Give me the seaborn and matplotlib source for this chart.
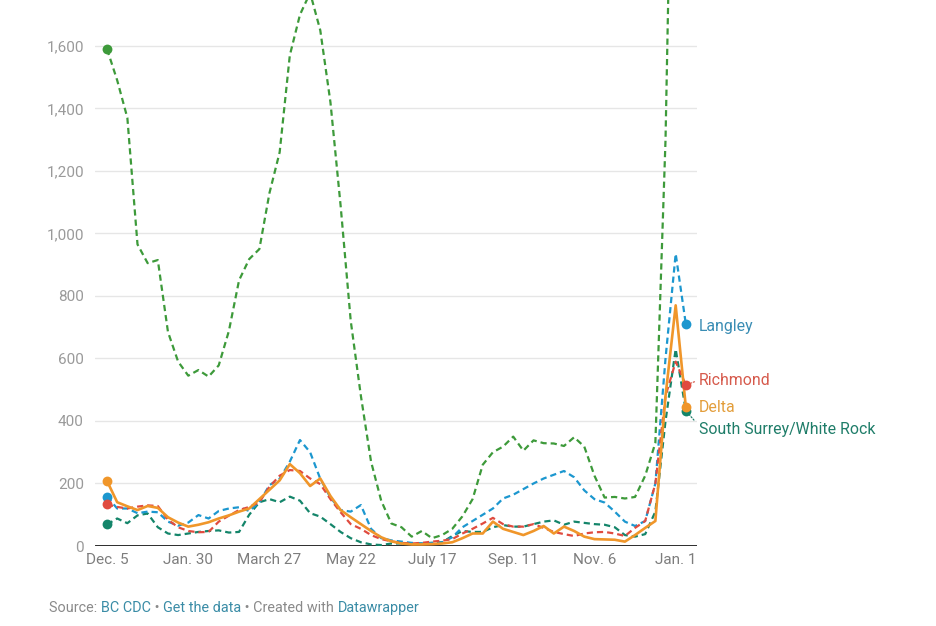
import numpy as np
import pandas as pd
import matplotlib
matplotlib.use("Agg")
import matplotlib.pyplot as plt
import seaborn as sns

# weekly case counts, week starting Dec. 5, 2020
weeks = pd.date_range("2020-12-05", periods=58, freq="7D")

surrey = [1590, 1490, 1370, 965, 905, 915, 685, 590, 545, 563,
          542, 578, 688, 850, 918, 950, 1130, 1260, 1570, 1700,
          1770, 1650, 1420, 1090, 720, 480, 270, 145, 72, 60,
          30, 48, 25, 35, 55, 95, 150, 260, 300, 318,
          350, 305, 338, 329, 328, 320, 348, 318, 225, 155,
          157, 152, 157, 225, 330, 1300, 3000, 2600]
langley = [158, 120, 120, 105, 110, 108, 78, 65, 75, 99,
           88, 112, 120, 124, 112, 140, 195, 215, 270, 339,
           300, 215, 155, 115, 110, 131, 55, 25, 18, 14,
           10, 8, 10, 11, 28, 60, 80, 100, 120, 152,
           164, 182, 200, 216, 228, 240, 220, 178, 150, 139,
           110, 78, 64, 80, 200, 600, 935, 710]
richmond = [133, 125, 120, 126, 130, 128, 84, 60, 48, 44,
            45, 78, 97, 115, 125, 140, 190, 225, 243, 240,
            216, 198, 150, 108, 70, 55, 35, 22, 15, 10,
            8, 10, 14, 17, 22, 40, 55, 72, 90, 70,
            62, 62, 70, 58, 45, 38, 32, 40, 44, 45,
            40, 32, 58, 80, 200, 480, 590, 515]
delta = [208, 140, 127, 115, 128, 122, 92, 75, 62, 68,
         76, 88, 98, 110, 120, 150, 180, 210, 262, 233,
         192, 216, 160, 115, 92, 70, 48, 28, 15, 8,
         5, 5, 6, 8, 12, 25, 40, 40, 78, 55,
         45, 35, 48, 64, 40, 62, 48, 30, 22, 21,
         20, 14, 35, 58, 80, 480, 770, 445]
south_surrey = [69, 88, 73, 98, 104, 60, 40, 35, 40, 45,
                48, 50, 43, 45, 100, 140, 150, 140, 158, 145,
                105, 94, 70, 45, 25, 12, 5, 3, 8, 8,
                8, 8, 10, 12, 32, 48, 45, 45, 60, 67,
                62, 62, 70, 78, 82, 68, 78, 74, 70, 68,
                60, 35, 30, 38, 110, 400, 630, 433]

names = ["Surrey", "South Surrey/White Rock", "Langley", "Richmond", "Delta"]
series = [surrey, south_surrey, langley, richmond, delta]
colors = ["#3d9a3a", "#14856a", "#1c97cf", "#e04b3f", "#f0962a"]
label_colors = [None, "#1f7d69", "#3a8db4", "#d65a4c", "#e39e3c"]
label_dy = [0, -13.7, -1.5, 3.6, -0.7]

tick_dates = weeks[::8]
tick_labels = ["Dec. 5", "Jan. 30", "March 27", "May 22", "July 17",
               "Sep. 11", "Nov. 6", "Jan. 1"]

sns.set_theme(style="white")
plt.rcParams["font.family"] = ["Roboto", "DejaVu Sans"]

fig = plt.figure(figsize=(9.36, 6.26), dpi=100)
ax = fig.add_axes([95 / 936, 1 - 546 / 626, (697 - 95) / 936, 546 / 626])

for name, vals, col in zip(names, series, colors):
    if name == "Delta":
        sns.lineplot(x=weeks, y=vals, ax=ax, color=col, lw=1.9, zorder=5)
    else:
        sns.lineplot(x=weeks, y=vals, ax=ax, color=col, lw=1.6,
                     linestyle=(0, (2.8, 1.8)), zorder=4)
    ax.scatter([weeks[0]], [vals[0]], s=50, color=col, zorder=6, lw=0)
    if name != "Surrey":
        ax.scatter([weeks[-1]], [vals[-1]], s=50, color=col, zorder=6, lw=0)

# end labels
for name, vals, lc, dy in zip(names, series, label_colors, label_dy):
    if lc is None:
        continue
    arrow = None
    if name == "Richmond":
        arrow = dict(arrowstyle="-", color=lc, lw=0.9, relpos=(0, 0.5),
                     linestyle=(0, (1, 1.5)), shrinkA=1, shrinkB=4)
    elif name == "South Surrey/White Rock":
        arrow = dict(arrowstyle="-", color=lc, lw=0.9, relpos=(0, 0.75),
                     linestyle=(0, (1, 1.5)), shrinkA=2, shrinkB=4)
    ax.annotate(name, xy=(weeks[-1], vals[-1]), xytext=(9.5, dy),
                textcoords="offset points", ha="left", va="center",
                color=lc, fontsize=11.4, arrowprops=arrow,
                annotation_clip=False)

ax.set_ylim(0, 1747)
ax.set_xlim(weeks[0] - pd.Timedelta(days=8.3), weeks[0] + pd.Timedelta(days=406.7))
ax.set_yticks(range(0, 1601, 200))
ax.set_yticklabels([f"{v:,}" for v in range(0, 1601, 200)])
ax.set_xticks(tick_dates)
ax.set_xticklabels(tick_labels)
ax.tick_params(axis="y", length=0, pad=8, labelsize=11, labelcolor="#9a9a9a")
ax.tick_params(axis="x", length=0, pad=5, labelsize=11, labelcolor="#7d7d7d")
ax.yaxis.grid(True, color="#e6e6e6", lw=1)
ax.set_axisbelow(True)
ax.axhline(0, color="#1a1a1a", lw=2, zorder=3)
for s in ax.spines.values():
    s.set_visible(False)
ax.set_xlabel("")
ax.set_ylabel("")

# source line
gray = "#8a8a8a"
link = "#3a8ca6"
parts = [("BC CDC", link), (" \u2022 ", gray), ("Get the data", link),
         (" \u2022 Created with ", gray), ("Datawrapper", link)]
t = fig.text(49 / 936, 1 - 608 / 626, "Source: ", color=gray, fontsize=10.4,
             va="center", ha="left")
for txt, col in parts:
    t = ax.annotate(txt, xy=(1, 0.5), xycoords=t, ha="left", va="center",
                    color=col, fontsize=10.4, annotation_clip=False)

fig.savefig("out.png", dpi=100, facecolor="white")
